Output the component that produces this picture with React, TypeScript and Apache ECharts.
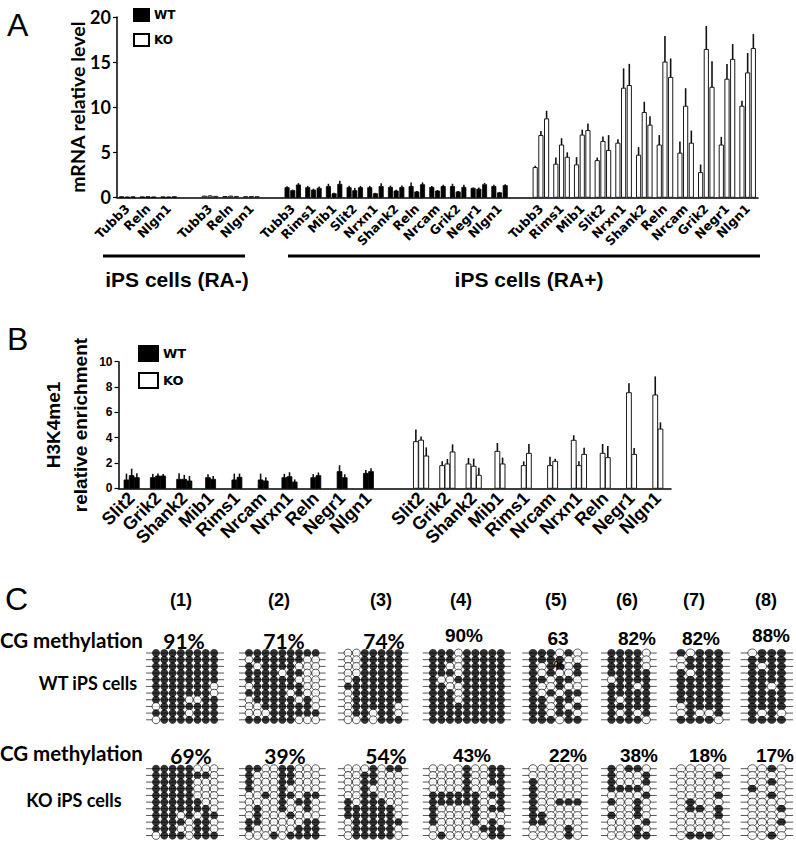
import React, { useEffect, useRef } from "react";
import * as echarts from "echarts";

// ---------------- Panel A data ----------------
const genesRAminus = ["Tubb3", "Reln", "Nlgn1"];
const genesRAplus = ["Tubb3", "Rims1", "Mib1", "Slit2", "Nrxn1", "Shank2", "Reln", "Nrcam", "Grik2", "Negr1", "Nlgn1"];

const mrnaRAminusWT = [[0.06, 0.04, 0.05], [0.05, 0.06, 0.04], [0.05, 0.04, 0.06]];
const mrnaRAminusWTErr = [[0.03, 0.02, 0.03], [0.02, 0.03, 0.02], [0.02, 0.02, 0.03]];
const mrnaRAminusKO = [[0.12, 0.15, 0.1], [0.09, 0.12, 0.08], [0.07, 0.08, 0.06]];
const mrnaRAminusKOErr = [[0.05, 0.06, 0.04], [0.04, 0.05, 0.03], [0.03, 0.03, 0.03]];
const mrnaRAplusWT = [
  [1.07, 0.74, 1.37], [1.07, 0.8, 1.0], [1.2, 0.4, 1.44], [1.07, 0.74, 1.07], [1.07, 0.4, 1.2],
  [1.1, 0.7, 1.1], [1.2, 0.6, 1.4], [1.1, 0.7, 1.2], [1.2, 0.6, 1.1], [1.0, 0.9, 1.4], [1.2, 0.5, 1.3],
];
const mrnaRAplusWTErr = [
  [0.15, 0.12, 0.2], [0.2, 0.15, 0.2], [0.3, 0.1, 0.4], [0.2, 0.3, 0.2], [0.2, 0.1, 0.35],
  [0.2, 0.15, 0.2], [0.45, 0.1, 0.25], [0.15, 0.1, 0.2], [0.3, 0.1, 0.3], [0.1, 0.2, 0.2], [0.2, 0.1, 0.15],
];
const mrnaRAplusKO = [
  [3.3, 6.85, 8.7], [3.67, 5.8, 4.44], [3.6, 6.9, 7.4], [4.07, 6.2, 5.2], [6.0, 12.1, 12.4],
  [4.67, 9.4, 8.0], [5.8, 15.0, 13.3], [4.9, 10.1, 6.0], [2.74, 16.4, 12.2], [5.8, 13.1, 15.3], [10.1, 13.8, 16.5],
];
const mrnaRAplusKOErr = [
  [0.2, 0.5, 0.9], [0.75, 0.75, 0.55], [0.85, 0.6, 0.8], [0.33, 0.55, 1.7], [0.45, 2.2, 2.4],
  [0.9, 1.2, 1.0], [1.1, 2.9, 2.1], [1.3, 2.0, 1.4], [0.9, 2.6, 2.9], [0.9, 1.7, 1.7], [0.6, 2.2, 1.6],
];
const mrnaTicks = [0, 5, 10, 15, 20];

// ---------------- Panel B data ----------------
const chipGenes = ["Slit2", "Grik2", "Shank2", "Mib1", "Rims1", "Nrcam", "Nrxn1", "Reln", "Negr1", "Nlgn1"];
const h3WT = [
  [0.66, 1.0, 0.84], [0.84, 0.97, 0.97], [0.71, 0.71, 0.58], [0.84, 0.71, null], [0.66, 0.87, null],
  [0.66, 0.58, null], [0.84, 0.92, 0.5], [0.84, 1.0, null], [1.32, 0.84, null], [1.18, 1.32, null],
];
const h3WTErr = [
  [0.5, 0.55, 0.35], [0.3, 0.2, 0.15], [0.47, 0.35, 0.4], [0.27, 0.27, null], [0.5, 0.3, null],
  [0.5, 0.3, null], [0.3, 0.35, 0.2], [0.28, 0.25, null], [0.5, 0.27, null], [0.26, 0.26, null],
];
const h3KO = [
  [3.68, 3.8, 2.55], [1.79, 1.92, 2.87], [1.92, 1.74, 1.03], [2.92, 1.92, null], [1.79, 2.76, null],
  [1.79, 2.13, null], [3.79, 1.79, 2.68], [2.76, 2.42, null], [7.55, 2.68, null], [7.37, 4.68, null],
];
const h3KOErr = [
  [0.97, 0.3, 0.68], [0.34, 0.4, 0.6], [0.47, 0.6, 0.6], [0.66, 0.5, null], [0.34, 0.74, null],
  [0.7, 0.2, null], [0.4, 0.34, 0.53], [0.74, 0.92, null], [0.74, 0.5, null], [1.47, 0.53, null],
];
const h3Ticks = [0, 2, 4, 6, 8, 10];

// ---------------- Panel C data ----------------
const regionLabels = ["(1)", "(2)", "(3)", "(4)", "(5)", "(6)", "(7)", "(8)"];
const wtPercents = ["91%", "71%", "74%", "90%", "63", "82%", "82%", "88%"];
const koPercents = ["69%", "39%", "54%", "43%", "22%", "38%", "18%", "17%"];

const wtPatterns = [
  ["11111111", "11111111", "11111111", "11111111", "11111111", "11111110", "11111110", "11110011", "01111111", "11110111", "01111111"],
  ["111111111", "011111100", "101111000", "111101100", "111111000", "011111100", "111110100", "011111010", "001111110", "000111111", "111111000"],
  ["0011111", "0011111", "0011111", "0011111", "0111111", "1111111", "0111111", "0111111", "0111110", "0110110", "0010111"],
  ["111011111", "111011111", "110011111", "111011111", "100111111", "110011111", "111011111", "111011111", "111111111", "111111111", "111111111"],
  ["111010", "111100", "101101", "101001", "110110", "100100", "101011", "110110", "110101", "110110", "111011"],
  ["11110", "11110", "11110", "11111", "01111", "11101", "11111", "10111", "11111", "10101", "11110"],
  ["10111", "01111", "01111", "10111", "11111", "11111", "11111", "11111", "01111", "01001", "11110"],
  ["0111", "1111", "1011", "1111", "1111", "1101", "1111", "1111", "1111", "1010", "1111"],
];
const koPatterns = [
  ["11111000", "11111110", "11111000", "11111000", "11111000", "11111100", "11111110", "11101011", "11110110", "11100110", "01110111"],
  ["110011000", "100011000", "100011000", "100010000", "001011011", "000010110", "010010010", "010001000", "110000011", "100000111", "000101111"],
  ["0001011", "0011000", "0011000", "0010000", "0011000", "1011100", "1111110", "1111110", "0111111", "0111110", "0111110"],
  ["000010011", "000010011", "000010011", "000010001", "111111011", "111111001", "100001011", "100001000", "100001010", "000000111", "010000011"],
  ["000000", "000000", "100000", "100000", "100000", "100111", "100000", "110000", "110000", "000010", "000010"],
  ["10110", "10001", "10001", "11110", "00001", "10010", "00010", "10010", "00001", "00010", "00011"],
  ["00000", "00001", "00000", "00000", "00001", "01000", "01101", "00001", "00000", "00000", "01110"],
  ["0010", "0000", "0010", "1000", "0010", "0000", "0001", "0000", "0001", "0000", "0010"],
];

// ---------------- layout (not data) ----------------
const cColX = [156, 249, 348, 433, 533, 611.5, 681, 752.5];
const cColSp = [8.3, 8.33, 8.4, 8.48, 8.9, 8.7, 9.4, 9.85];
const cRowTop = [653, 768.7];
const cRowSp = 6.68;

const ARIAL = "Liberation Sans, Arial, sans-serif";
const CALIBRI = "Lato, sans-serif";
const WIDE = "DejaVu Sans, sans-serif";

type Grp = { ko: boolean; values: (number | null)[]; errs: (number | null)[] } | null;

function buildGroups(vals: (number | null)[][], errs: (number | null)[][], ko: boolean): Grp[] {
  return vals.map((v, i) => ({ ko, values: v, errs: errs[i] }));
}

const aCategories = [...genesRAminus, "", ...genesRAminus, "", ...genesRAplus, "", ...genesRAplus];
const aGroups: Grp[] = [
  ...buildGroups(mrnaRAminusWT, mrnaRAminusWTErr, false),
  null,
  ...buildGroups(mrnaRAminusKO, mrnaRAminusKOErr, true),
  null,
  ...buildGroups(mrnaRAplusWT, mrnaRAplusWTErr, false),
  null,
  ...buildGroups(mrnaRAplusKO, mrnaRAplusKOErr, true),
];
const bCategories = [...chipGenes, "", ...chipGenes];
const bGroups: Grp[] = [
  ...buildGroups(h3WT, h3WTErr, false),
  null,
  ...buildGroups(h3KO, h3KOErr, true),
];

function groupData(groups: Grp[]) {
  return groups.map((g, i) => {
    const vals = g ? (g.values.filter((v) => v != null) as number[]) : [];
    return [i, vals.length ? Math.max(...vals) : 0];
  });
}

function makeBarRenderer(groups: Grp[], barW: number, pitch: number, errW: number) {
  return (params: any, api: any) => {
    const g = groups[params.dataIndex];
    const children: any[] = [];
    if (!g) return { type: "group", children };
    const present: { v: number; e: number }[] = [];
    g.values.forEach((v, k) => {
      if (v != null) present.push({ v, e: (g.errs[k] as number) || 0 });
    });
    const n = present.length;
    const base = api.coord([params.dataIndex, 0]);
    present.forEach((d, j) => {
      const cx = base[0] + (j - (n - 1) / 2) * pitch;
      const top = api.coord([params.dataIndex, d.v]);
      const et = api.coord([params.dataIndex, d.v + d.e]);
      children.push({
        type: "line",
        shape: { x1: cx, y1: top[1], x2: cx, y2: et[1] },
        style: { stroke: "#111", lineWidth: errW },
      });
      children.push({
        type: "rect",
        shape: { x: cx - barW / 2, y: top[1], width: barW, height: Math.max(base[1] - top[1], 0.6) },
        style: g.ko
          ? { fill: "#fff", stroke: "#1a1a1a", lineWidth: 1 }
          : { fill: "#000", stroke: "#000", lineWidth: 0.8 },
      });
    });
    return { type: "group", children };
  };
}

export default function App() {
  const ref = useRef<HTMLDivElement>(null);
  useEffect(() => {
    if (!ref.current) return;
    const chart = echarts.init(ref.current, null, { renderer: "svg" });

    const grids: any[] = [
      { left: 117, top: 17, width: 641, height: 180.3 },
      { left: 118.5, top: 361.7, width: 552.5, height: 126.6 },
    ];
    const xAxes: any[] = [
      {
        gridIndex: 0,
        type: "category",
        data: aCategories,
        axisLine: { lineStyle: { color: "#000", width: 1.5 } },
        axisTick: { alignWithLabel: true, interval: 0, length: 4, lineStyle: { color: "#000", width: 1.2 } },
        axisLabel: {
          interval: 0,
          rotate: 45,
          margin: 9,
          fontSize: 12.5,
          fontWeight: "bold",
          fontFamily: WIDE,
          color: "#000",
        },
      },
      {
        gridIndex: 1,
        type: "category",
        data: bCategories,
        axisLine: { lineStyle: { color: "#000", width: 1.5 } },
        axisTick: { alignWithLabel: true, interval: 0, length: 4, lineStyle: { color: "#000", width: 1.2 } },
        axisLabel: {
          interval: 0,
          rotate: 45,
          margin: 7,
          fontSize: 18,
          fontWeight: "bold",
          fontFamily: ARIAL,
          color: "#000",
        },
      },
    ];
    const yAxes: any[] = [
      {
        gridIndex: 0,
        type: "value",
        min: mrnaTicks[0],
        max: mrnaTicks[mrnaTicks.length - 1],
        interval: mrnaTicks[1] - mrnaTicks[0],
        axisLine: { show: true, lineStyle: { color: "#000", width: 1.5 } },
        axisTick: { show: true, length: 4, lineStyle: { color: "#000", width: 1.2 } },
        splitLine: { show: false },
        axisLabel: { fontSize: 18, fontWeight: "bold", fontFamily: CALIBRI, color: "#000", margin: 6 },
        name: "mRNA relative level",
        nameLocation: "middle",
        nameGap: 30,
        nameMoveOverlap: false,
        nameTextStyle: { fontSize: 19.5, fontWeight: "bold", fontFamily: CALIBRI, color: "#000" },
      },
      {
        gridIndex: 1,
        type: "value",
        min: h3Ticks[0],
        max: h3Ticks[h3Ticks.length - 1],
        interval: h3Ticks[1] - h3Ticks[0],
        axisLine: { show: true, lineStyle: { color: "#000", width: 1.5 } },
        axisTick: { show: true, length: 4, lineStyle: { color: "#000", width: 1.2 } },
        splitLine: { show: false },
        axisLabel: { fontSize: 12, fontWeight: "bold", fontFamily: ARIAL, color: "#000", margin: 6 },
        name: "H3K4me1\nrelative enrichment",
        nameLocation: "middle",
        nameGap: 25,
        nameMoveOverlap: false,
        nameTextStyle: { fontSize: 19, lineHeight: 27, fontWeight: "bold", fontFamily: ARIAL, color: "#000" },
      },
    ];

    const series: any[] = [
      {
        type: "custom",
        name: "mRNA",
        xAxisIndex: 0,
        yAxisIndex: 0,
        data: groupData(aGroups),
        encode: { x: 0, y: 1 },
        renderItem: makeBarRenderer(aGroups, 4.2, 5.7, 1.6),
        silent: true,
        z: 3,
      },
      {
        type: "custom",
        name: "H3K4me1",
        xAxisIndex: 1,
        yAxisIndex: 1,
        data: groupData(bGroups),
        encode: { x: 0, y: 1 },
        renderItem: makeBarRenderer(bGroups, 4.8, 5.2, 1.6),
        silent: true,
        z: 3,
      },
      {
        type: "bar",
        name: "WT",
        xAxisIndex: 0,
        yAxisIndex: 0,
        data: [],
        itemStyle: { color: "#000", borderColor: "#000", borderWidth: 1 },
      },
      {
        type: "bar",
        name: "KO",
        xAxisIndex: 0,
        yAxisIndex: 0,
        data: [],
        itemStyle: { color: "#fff", borderColor: "#000", borderWidth: 1.3 },
      },
    ];

    // Panel C: one small grid per methylation map
    const rowsets = [wtPatterns, koPatterns];
    rowsets.forEach((patterns, r) => {
      patterns.forEach((pat, g) => {
        const cols = pat[0].length;
        const sp = cColSp[g];
        const gi = grids.length;
        grids.push({
          left: cColX[g] - 1.5 * sp,
          top: cRowTop[r] - 0.5 * cRowSp,
          width: sp * (cols + 2),
          height: cRowSp * pat.length,
        });
        xAxes.push({ gridIndex: gi, type: "value", min: -1.5, max: cols + 0.5, show: false });
        yAxes.push({ gridIndex: gi, type: "value", min: -0.5, max: pat.length - 0.5, inverse: true, show: false });
        const xi = xAxes.length - 1;
        const yi = yAxes.length - 1;
        series.push({
          type: "custom",
          xAxisIndex: xi,
          yAxisIndex: yi,
          silent: true,
          z: 1,
          data: pat.map((_, row) => [0, row]),
          encode: { x: 0, y: 1 },
          renderItem: (params: any, api: any) => {
            const p1 = api.coord([-1.2, params.dataIndex]);
            const p2 = api.coord([cols - 1 + 1.2, params.dataIndex]);
            return {
              type: "line",
              shape: { x1: p1[0], y1: p1[1], x2: p2[0], y2: p2[1] },
              style: { stroke: "#555", lineWidth: 1 },
            };
          },
        });
        const dots: any[] = [];
        pat.forEach((rowStr, row) => {
          rowStr.split("").forEach((ch, c) => {
            const filled = ch === "1";
            dots.push({
              value: [c, row],
              itemStyle: filled
                ? { color: "#000", borderColor: "#000", borderWidth: 0 }
                : { color: "#fff", borderColor: "#000", borderWidth: 0.8 },
            });
          });
        });
        series.push({
          type: "scatter",
          xAxisIndex: xi,
          yAxisIndex: yi,
          silent: true,
          z: 2,
          symbol: "circle",
          symbolSize: [Math.min(sp * 0.95, 9), 7.9],
          data: dots,
        });
      });
    });

    const text = (x: number, y: number, t: string, size: number, family: string, weight = "bold", align = "center") => ({
      type: "text",
      x,
      y,
      silent: true,
      style: {
        text: t,
        fontSize: size,
        fontWeight: weight,
        fontFamily: family,
        fill: "#000",
        align,
        verticalAlign: "middle",
      },
    });

    const wtPctX = [184, 284, 384, 464, 558, 637, 701, 771];
    const wtPctY = [640, 640, 640, 635, 638, 638, 638, 635];
    const koPctX = [191, 285, 386, 472, 568, 639, 708, 775];
    const regionX = [181, 279, 381, 461, 556, 627, 694, 766];

    const graphics: any[] = [
      text(7, 25, "A", 32, ARIAL, "normal", "left"),
      text(7, 339, "B", 32, ARIAL, "normal", "left"),
      text(5, 599, "C", 32, ARIAL, "normal", "left"),
      { type: "line", silent: true, shape: { x1: 103, y1: 256, x2: 245, y2: 256 }, style: { stroke: "#000", lineWidth: 3 } },
      { type: "line", silent: true, shape: { x1: 288, y1: 256, x2: 760, y2: 256 }, style: { stroke: "#000", lineWidth: 3 } },
      text(177, 279, "iPS cells (RA-)", 21, ARIAL),
      text(529, 279, "iPS cells (RA+)", 21, ARIAL),
      text(0, 640, "CG methylation", 20.5, CALIBRI, "bold", "left"),
      text(88, 683, "WT iPS cells", 18, CALIBRI),
      text(0, 753, "CG methylation", 20.5, CALIBRI, "bold", "left"),
      text(74, 800, "KO iPS cells", 18, CALIBRI),
      text(559, 666, "%", 12, ARIAL),
    ];
    regionLabels.forEach((t, i) => graphics.push(text(regionX[i], 600, t, 18, ARIAL)));
    wtPercents.forEach((t, i) => graphics.push(text(wtPctX[i], wtPctY[i], t, i < 3 ? 21 : 19, i < 3 ? CALIBRI : ARIAL)));
    koPercents.forEach((t, i) => graphics.push(text(koPctX[i], 755, t, i < 3 ? 21 : 19, i < 3 ? CALIBRI : ARIAL)));

    chart.setOption({
      animation: false,
      backgroundColor: "#fff",
      grid: grids,
      xAxis: xAxes,
      yAxis: yAxes,
      legend: [
        {
          left: 128,
          top: 3,
          orient: "vertical",
          icon: "rect",
          itemWidth: 15,
          itemHeight: 12,
          itemGap: 11,
          selectedMode: false,
          data: ["WT", "KO"],
          textStyle: { fontSize: 12, fontWeight: "bold", fontFamily: WIDE, color: "#000" },
        },
        {
          left: 133,
          top: 340,
          orient: "vertical",
          icon: "rect",
          itemWidth: 19,
          itemHeight: 15,
          itemGap: 10,
          selectedMode: false,
          data: ["WT", "KO"],
          textStyle: { fontSize: 13, fontWeight: "bold", fontFamily: WIDE, color: "#000" },
        },
      ],
      series,
      graphic: graphics,
    });
    return () => chart.dispose();
  }, []);

  return (
    <div
      ref={ref}
      style={{ position: "absolute", left: 0, top: 0, width: 796, height: 841, background: "#fff" }}
    />
  );
}
